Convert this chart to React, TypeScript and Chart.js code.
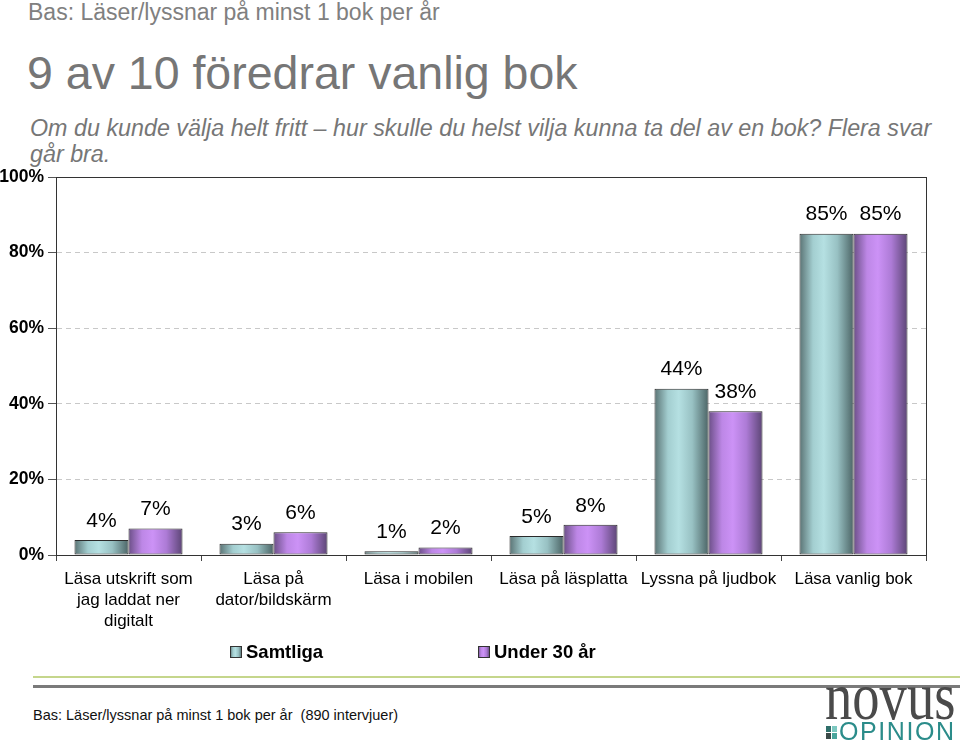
import React, { useEffect, useRef } from "react";
import { Chart, registerables } from "chart.js";

Chart.register(...registerables);

const categories: string[][] = [
  ["Läsa utskrift som", "jag laddat ner", "digitalt"],
  ["Läsa på", "dator/bildskärm"],
  ["Läsa i mobilen"],
  ["Läsa på läsplatta"],
  ["Lyssna på ljudbok"],
  ["Läsa vanlig bok"],
];
const samtliga: number[] = [4, 3, 1, 5, 44, 85];
const under30: number[] = [7, 6, 2, 8, 38, 85];
const seriesNames: string[] = ["Samtliga", "Under 30 år"];
const yTicks: number[] = [0, 20, 40, 60, 80, 100];

const FONT = 'Arial, "Liberation Sans", Helvetica, sans-serif';
const CAT_PCT = 0.745;

const gradStops: [number, string][][] = [
  [
    [0, "#5a7374"],
    [0.25, "#a3ced0"],
    [0.45, "#b5e0e2"],
    [0.7, "#98c1c3"],
    [1, "#4c6566"],
  ],
  [
    [0, "#6b4f87"],
    [0.25, "#bd87e6"],
    [0.45, "#cc92f6"],
    [0.7, "#ad7bd6"],
    [1, "#5c4575"],
  ],
];
const flatColors = ["#a8d4d6", "#c28ced"];

function makeGrad(ctx: CanvasRenderingContext2D, left: number, right: number, idx: number) {
  const g = ctx.createLinearGradient(left, 0, right, 0);
  gradStops[idx].forEach(([o, c]) => g.addColorStop(o, c));
  return g;
}

const plotBox = {
  id: "plotBox",
  beforeDatasetsDraw(chart: any) {
    const { ctx, chartArea } = chart;
    ctx.save();
    ctx.strokeStyle = "#333";
    ctx.lineWidth = 1;
    ctx.strokeRect(
      Math.round(chartArea.left) + 0.5,
      Math.round(chartArea.top) + 0.5,
      Math.round(chartArea.right - chartArea.left),
      Math.round(chartArea.bottom - chartArea.top)
    );
    ctx.restore();
  },
};

const valueLabels = {
  id: "valueLabels",
  afterDatasetsDraw(chart: any) {
    const { ctx } = chart;
    ctx.save();
    ctx.font = `21px ${FONT}`;
    ctx.fillStyle = "#000";
    ctx.textAlign = "center";
    ctx.textBaseline = "middle";
    chart.data.datasets.forEach((ds: any, di: number) => {
      const meta = chart.getDatasetMeta(di);
      meta.data.forEach((el: any, i: number) => {
        ctx.fillText(`${ds.data[i]}%`, el.x, el.y - 19);
      });
    });
    ctx.restore();
  },
};

const customLegend = {
  id: "customLegend",
  afterDraw(chart: any) {
    const { ctx, chartArea } = chart;
    const y = chartArea.bottom + 97;
    const xs = [chartArea.left + 174, chartArea.left + 422];
    ctx.save();
    ctx.font = `bold 18.5px ${FONT}`;
    ctx.textBaseline = "middle";
    ctx.textAlign = "left";
    chart.data.datasets.forEach((ds: any, i: number) => {
      const x = xs[i];
      ctx.fillStyle = makeGrad(ctx, x, x + 12, i);
      ctx.fillRect(x, y - 6, 12, 12);
      ctx.strokeStyle = "#333";
      ctx.lineWidth = 1;
      ctx.strokeRect(x + 0.5, y - 5.5, 11, 11);
      ctx.fillStyle = "#000";
      ctx.fillText(ds.label, x + 16, y + 1);
    });
    ctx.restore();
  },
};

function ChartView() {
  const ref = useRef<HTMLCanvasElement | null>(null);
  useEffect(() => {
    if (!ref.current) return;
    const bg = (c: any) => {
      const chart = c.chart;
      const xs = chart.scales && chart.scales.x;
      if (!xs || !chart.chartArea) return flatColors[c.datasetIndex];
      const step = xs.width / categories.length;
      const w = (step * CAT_PCT) / 2;
      const center = xs.getPixelForValue(c.dataIndex);
      const left = center - w + c.datasetIndex * w;
      return makeGrad(chart.ctx, left, left + w, c.datasetIndex);
    };
    const chart = new Chart(ref.current, {
      type: "bar",
      data: {
        labels: categories,
        datasets: [
          {
            label: seriesNames[0],
            data: samtliga,
            backgroundColor: bg,
            borderColor: "#2b2b2b",
            borderWidth: 1,
            borderSkipped: false,
            categoryPercentage: CAT_PCT,
            barPercentage: 1,
          },
          {
            label: seriesNames[1],
            data: under30,
            backgroundColor: bg,
            borderColor: "#2b2b2b",
            borderWidth: 1,
            borderSkipped: false,
            categoryPercentage: CAT_PCT,
            barPercentage: 1,
          },
        ],
      },
      options: {
        responsive: false,
        animation: false,
        devicePixelRatio: 1,
        layout: { padding: { top: 17, right: 34, left: 0, bottom: 0 } },
        plugins: {
          legend: { display: false },
          tooltip: { enabled: false },
          title: { display: false },
        },
        scales: {
          x: {
            offset: true,
            grid: {
              display: true,
              drawOnChartArea: false,
              drawTicks: true,
              tickLength: 6,
              color: "#444",
              tickColor: "#444",
            },
            border: { display: true, color: "#333" },
            ticks: {
              color: "#000",
              font: { family: FONT, size: 17, lineHeight: 1.22 },
              padding: 8,
              maxRotation: 0,
              autoSkip: false,
            },
            afterFit: (s: any) => {
              s.height = 125;
            },
          },
          y: {
            min: 0,
            max: 100,
            afterBuildTicks: (s: any) => {
              s.ticks = yTicks.map((v) => ({ value: v }));
            },
            ticks: {
              color: "#000",
              font: { family: FONT, size: 17.5, weight: "bold" },
              padding: 4,
              callback: (v: any) => `${v}%`,
            },
            grid: {
              color: "#c8c8c8",
              tickColor: "#555",
              drawTicks: true,
              tickLength: 8,
              tickBorderDash: [],
            },
            border: { display: true, color: "#333", dash: [5, 4] },
            afterFit: (s: any) => {
              s.width = 56;
            },
          },
        },
      },
      plugins: [plotBox, valueLabels, customLegend],
    } as any);
    return () => chart.destroy();
  }, []);
  return (
    <canvas
      ref={ref}
      width={960}
      height={520}
      style={{ position: "absolute", left: 0, top: 160, width: 960, height: 520 }}
    />
  );
}

export default function App() {
  const grey = "#767676";
  return (
    <div
      style={{
        position: "absolute",
        left: 0,
        top: 0,
        width: 960,
        height: 742,
        overflow: "hidden",
        background: "#fff",
        fontFamily: FONT,
      }}
    >
      <div style={{ position: "absolute", left: 28, top: 0, fontSize: 23, lineHeight: "25px", color: "#808080", whiteSpace: "nowrap" }}>
        Bas: Läser/lyssnar på minst 1 bok per år
      </div>
      <div style={{ position: "absolute", left: 27, top: 48, fontSize: 46.5, lineHeight: "50px", color: grey, whiteSpace: "nowrap" }}>
        9 av 10 föredrar vanlig bok
      </div>
      <div style={{ position: "absolute", left: 30, top: 115, fontSize: 23.3, lineHeight: "26px", color: grey, fontStyle: "italic", whiteSpace: "nowrap" }}>
        Om du kunde välja helt fritt – hur skulle du helst vilja kunna ta del av en bok? Flera svar
        <br />
        går bra.
      </div>
      <ChartView />
      <div style={{ position: "absolute", left: 33, top: 676, width: 927, height: 2, background: "#c5d68c" }} />
      <div style={{ position: "absolute", left: 33, top: 685, width: 927, height: 3, background: "#7a7a7a" }} />
      <div style={{ position: "absolute", left: 33, top: 706, fontSize: 14.5, lineHeight: "18px", color: "#111", whiteSpace: "nowrap" }}>
        Bas: Läser/lyssnar på minst 1 bok per år&nbsp;&nbsp;(890 intervjuer)
      </div>
      <div
        style={{
          position: "absolute",
          left: 825,
          top: 676,
          fontFamily: '"Liberation Serif", "DejaVu Serif", serif',
          fontSize: 52,
          lineHeight: "52px",
          color: "#4a4a4a",
          whiteSpace: "nowrap",
          transform: "scale(1.05, 1.3)",
          transformOrigin: "0 44px",
        }}
      >
        novus
      </div>
      <div style={{ position: "absolute", left: 826, top: 726, width: 12, height: 14 }}>
        <div style={{ position: "absolute", left: 0, top: 0, width: 5, height: 6, background: "#2f6f6a" }} />
        <div style={{ position: "absolute", left: 6, top: 0, width: 5, height: 6, background: "#7cc8c0" }} />
        <div style={{ position: "absolute", left: 0, top: 7, width: 5, height: 6, background: "#3b4a48" }} />
        <div style={{ position: "absolute", left: 6, top: 7, width: 5, height: 6, background: "#4aa59c" }} />
      </div>
      <div style={{ position: "absolute", left: 839, top: 718, fontSize: 25, lineHeight: "27px", color: "#2b8c8a", whiteSpace: "nowrap", letterSpacing: 1.6 }}>
        OPINION
      </div>
    </div>
  );
}
